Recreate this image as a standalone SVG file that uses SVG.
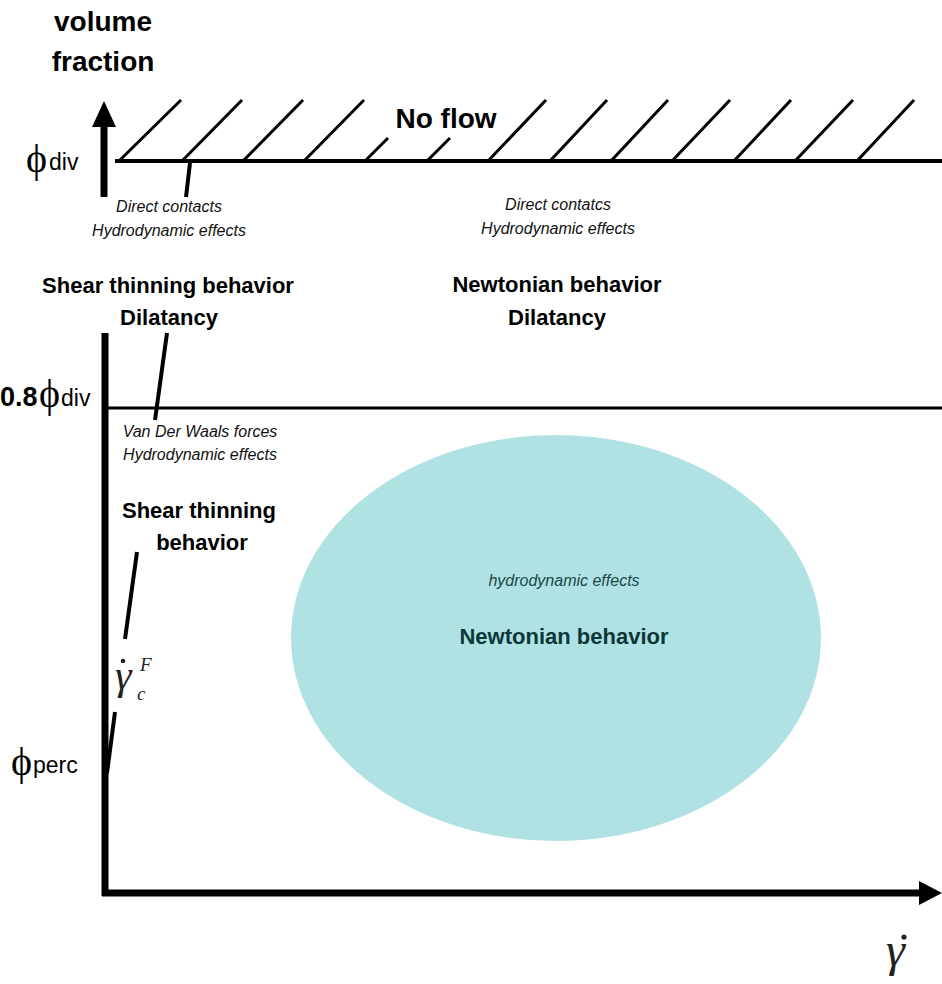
<svg xmlns="http://www.w3.org/2000/svg" width="942" height="984" viewBox="0 0 942 984">
<style>
.b{font-family:"Liberation Sans",Arial,sans-serif;font-weight:bold;font-size:22px;fill:#000}
.i{font-family:"Liberation Sans",Arial,sans-serif;font-style:italic;font-size:16px;fill:#111}
.r{font-family:"Liberation Sans",Arial,sans-serif;font-size:23px;fill:#000}
.phi{font-family:"Liberation Serif","DejaVu Serif",serif;font-size:40px;fill:#000}
.m{font-family:"Liberation Serif","DejaVu Serif",serif;font-style:italic;fill:#222}
.hatch{stroke:#000;stroke-width:3;fill:none}
.conn{stroke:#000;stroke-width:4;fill:none}
.axis{stroke:#000;stroke-width:7;fill:none}
</style>
<rect width="942" height="984" fill="#fff"/>
<g id="newtonian-region">
<ellipse cx="556" cy="638" rx="265" ry="203" fill="#b0e2e4"/>
<text class="i" x="564" y="586" text-anchor="middle" style="fill:#1d4848">hydrodynamic effects</text>
<text class="b" x="564" y="644" text-anchor="middle" style="fill:#0b3838">Newtonian behavior</text>
</g>
<g id="axes">
<line class="axis" x1="104" y1="126" x2="104" y2="197"/>
<polygon points="104,101 92,127 116,127" fill="#000"/>
<line class="axis" x1="105" y1="333" x2="105" y2="896"/>
<line class="axis" x1="102" y1="893" x2="921" y2="893"/>
<polygon points="919,881 942,893 919,905" fill="#000"/>
<text class="b" x="103" y="31" text-anchor="middle" style="font-size:28px">volume</text>
<text class="b" x="103" y="71" text-anchor="middle" style="font-size:28px">fraction</text>
<text class="m" x="886" y="966" style="font-size:48px">γ</text>
<circle cx="904" cy="937" r="2.6" fill="#222"/>
</g>
<g id="no-flow">
<line x1="115" y1="161" x2="942" y2="161" stroke="#000" stroke-width="4"/>
<g class="hatch">
<line x1="119" y1="161" x2="181" y2="100"/>
<line x1="182" y1="161" x2="242" y2="100"/>
<line x1="243" y1="161" x2="303" y2="100"/>
<line x1="304" y1="161" x2="364" y2="100"/>
<line x1="365" y1="161" x2="388" y2="138"/>
<line x1="427" y1="161" x2="450" y2="138"/>
<line x1="488" y1="161" x2="546" y2="100"/>
<line x1="550" y1="161" x2="607" y2="100"/>
<line x1="611" y1="161" x2="668" y2="100"/>
<line x1="672" y1="161" x2="730" y2="100"/>
<line x1="734" y1="161" x2="791" y2="100"/>
<line x1="795" y1="161" x2="853" y2="100"/>
<line x1="857" y1="161" x2="914" y2="100"/>
</g>
<text class="b" x="446" y="128" text-anchor="middle" style="font-size:28px">No flow</text>
<text class="phi" x="26" y="172">ϕ</text>
<text class="r" x="49" y="170">div</text>
</g>
<g id="phi-08">
<line x1="105" y1="408" x2="942" y2="408" stroke="#000" stroke-width="3"/>
<text class="b" x="0" y="406" style="font-size:27px">0.8</text>
<text class="phi" x="39" y="407">ϕ</text>
<text class="r" x="61" y="406">div</text>
</g>
<g id="phi-perc">
<text class="phi" x="11" y="775">ϕ</text>
<text class="r" x="33" y="773">perc</text>
</g>
<g id="contacts-left">
<text class="i" x="169" y="212" text-anchor="middle">Direct contacts</text>
<text class="i" x="169" y="236" text-anchor="middle">Hydrodynamic effects</text>
</g>
<g id="contacts-right">
<text class="i" x="558" y="210" text-anchor="middle">Direct contatcs</text>
<text class="i" x="558" y="234" text-anchor="middle">Hydrodynamic effects</text>
</g>
<g id="shear-dilatancy">
<text class="b" x="168" y="293" text-anchor="middle">Shear thinning behavior</text>
<text class="b" x="169" y="325" text-anchor="middle">Dilatancy</text>
</g>
<g id="newtonian-dilatancy">
<text class="b" x="557" y="292" text-anchor="middle">Newtonian behavior</text>
<text class="b" x="557" y="325" text-anchor="middle">Dilatancy</text>
</g>
<g id="vdw">
<text class="i" x="200" y="437" text-anchor="middle">Van Der Waals forces</text>
<text class="i" x="200" y="460" text-anchor="middle">Hydrodynamic effects</text>
</g>
<g id="shear-thinning">
<text class="b" x="199" y="518" text-anchor="middle">Shear thinning</text>
<text class="b" x="202" y="550" text-anchor="middle">behavior</text>
</g>
<g id="critical-rate">
<text class="m" x="115" y="689" style="font-size:42px">γ</text>
<circle cx="123" cy="661" r="2.3" fill="#222"/>
<text class="m" x="140" y="671" style="font-size:19px">F</text>
<text class="m" x="137" y="700" style="font-size:19px">c</text>
</g>
<g id="connectors" class="conn">
<line x1="190" y1="163" x2="186" y2="197"/>
<line x1="167" y1="333" x2="155" y2="420"/>
<line x1="137" y1="552" x2="125" y2="639"/>
<line x1="115" y1="712" x2="107" y2="773"/>
</g>
</svg>
